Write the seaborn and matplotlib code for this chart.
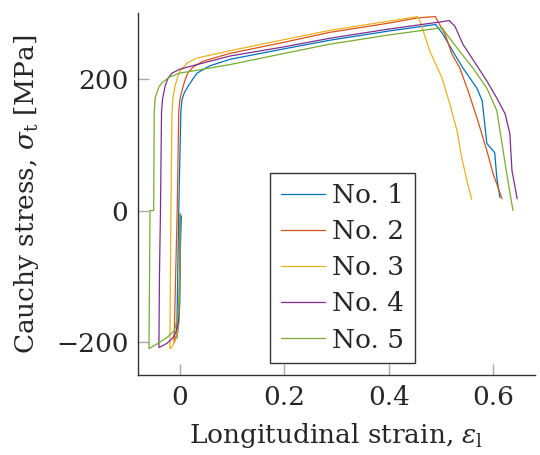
import pandas as pd
import matplotlib
matplotlib.use("Agg")
import matplotlib.pyplot as plt
import seaborn as sns

# strain / stress pairs, one pair of lists per specimen
strain_1 = [0.003, 0.001, 0.000, -0.002, -0.004, -0.006, -0.004, -0.002, 0.002, 0.004, 0.008,
            0.015, 0.025, 0.033, 0.057, 0.096, 0.2, 0.287, 0.4, 0.49, 0.504, 0.523, 0.542,
            0.569, 0.579, 0.588, 0.603, 0.607, 0.613]
stress_1 = [-8, -60, -140, -170, -185, -194, -100, 0, 150, 168, 178,
            188, 200, 209, 220, 230, 246, 259, 273, 283, 268, 242, 217,
            186, 167, 102, 88, 50, 20]

strain_2 = [0.001, 0.000, -0.001, -0.003, -0.006, -0.011, -0.008, -0.005, -0.002, 0.000, 0.004,
            0.009, 0.015, 0.025, 0.044, 0.096, 0.2, 0.287, 0.4, 0.455, 0.489, 0.508, 0.521,
            0.536, 0.552, 0.569, 0.588, 0.600, 0.617]
stress_2 = [-5, -80, -140, -170, -188, -201, -100, 0, 150, 168, 182,
            196, 209, 218, 227, 239, 256, 271, 285, 293, 295, 268, 238,
            217, 182, 141, 91, 56, 18]

strain_3 = [0.001, 0.000, -0.001, -0.003, -0.006, -0.010, -0.015, -0.019, -0.018, -0.017, -0.015,
            -0.013, -0.009, -0.004, 0.000, 0.015, 0.033, 0.096, 0.2, 0.287, 0.4, 0.455, 0.460,
            0.479, 0.502, 0.517, 0.531, 0.540, 0.550, 0.559]
stress_3 = [-5, -80, -140, -175, -192, -200, -207, -210, -100, 0, 150,
            172, 190, 203, 212, 225, 232, 243, 260, 274, 288, 295, 288,
            242, 202, 162, 121, 80, 45, 17]

strain_4 = [0.001, 0.000, -0.001, -0.003, -0.008, -0.015, -0.025, -0.034, -0.040, -0.039, -0.037,
            -0.035, -0.033, -0.028, -0.022, -0.015, 0.000, 0.033, 0.096, 0.2, 0.287, 0.4, 0.5,
            0.516, 0.527, 0.542, 0.561, 0.588, 0.607, 0.623, 0.632, 0.636, 0.646]
stress_4 = [-5, -80, -140, -172, -186, -195, -202, -206, -208, -100, 0,
            150, 170, 190, 202, 209, 215, 222, 235, 249, 262, 276, 287,
            289, 280, 253, 230, 197, 171, 147, 117, 61, 18]

strain_5 = [0.001, 0.000, -0.001, -0.004, -0.010, -0.023, -0.042, -0.059, -0.058, -0.057, -0.050,
            -0.049, -0.047, -0.040, -0.033, -0.020, 0.000, 0.096, 0.2, 0.287, 0.4, 0.502, 0.511,
            0.536, 0.561, 0.588, 0.607, 0.617, 0.626, 0.638]
stress_5 = [-5, -80, -140, -162, -182, -192, -202, -210, -100, 0, 0,
            150, 172, 188, 195, 203, 209, 222, 239, 253, 267, 278, 268,
            242, 217, 186, 152, 102, 56, 0]

labels = ["No. 1", "No. 2", "No. 3", "No. 4", "No. 5"]
colors = ["#0072BD", "#D95319", "#EDB120", "#7E2F8E", "#77AC30"]

frames = []
for lab, x, y in zip(labels, [strain_1, strain_2, strain_3, strain_4, strain_5],
                     [stress_1, stress_2, stress_3, stress_4, stress_5]):
    frames.append(pd.DataFrame({"strain": x, "stress": y, "specimen": lab}))
df = pd.concat(frames, ignore_index=True)

sns.set_style("ticks")
plt.rcParams["font.family"] = ["DejaVu Serif"]
plt.rcParams["mathtext.fontset"] = "dejavuserif"

fig = plt.figure(figsize=(5.4, 4.55), dpi=100)
ax = fig.add_axes([0.2556, 0.1758, 0.735, 0.795])

sns.lineplot(data=df, x="strain", y="stress", hue="specimen", hue_order=labels,
             palette=colors, sort=False, estimator=None, units="specimen",
             linewidth=0.9, ax=ax)

ax.set_xlim(-0.08, 0.68)
ax.set_ylim(-250, 300)
ax.set_xticks([0, 0.2, 0.4, 0.6])
ax.set_xticklabels(["0", "0.2", "0.4", "0.6"])
ax.set_yticks([-200, 0, 200])

for side in ["top", "right"]:
    ax.spines[side].set_visible(False)
for side in ["left", "bottom"]:
    ax.spines[side].set_color("#333333")
    ax.spines[side].set_linewidth(1.0)
ax.tick_params(direction="in", length=8, width=1, color="#aaaaaa", labelsize=19, pad=7)

ax.set_xlabel(r"Longitudinal strain, $\varepsilon_{\mathrm{l}}$", fontsize=19, labelpad=8)
ax.set_ylabel(r"Cauchy stress, $\sigma_{\mathrm{t}}$ [MPa]", fontsize=19, labelpad=11)

leg = ax.legend(loc="lower left", bbox_to_anchor=(0.3325, 0.033), borderaxespad=0,
                fontsize=19, frameon=True, fancybox=False, framealpha=1,
                edgecolor="#333333", handlelength=1.7, handletextpad=0.25,
                labelspacing=0.42, borderpad=0.4, title=None)
leg.get_frame().set_linewidth(1.0)

fig.savefig("out.png", dpi=100)
